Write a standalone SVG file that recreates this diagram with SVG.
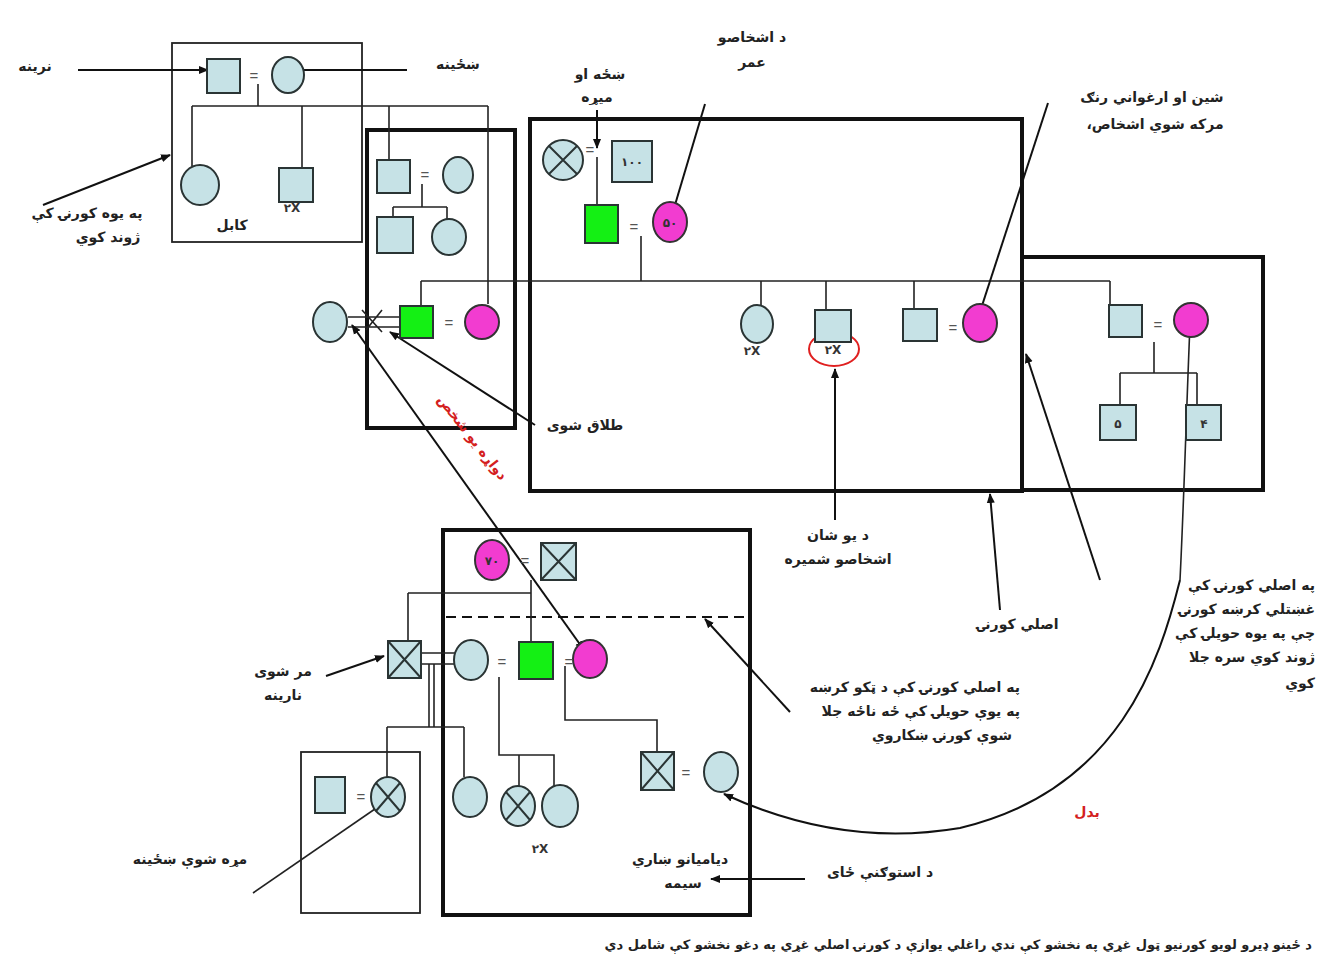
<svg xmlns="http://www.w3.org/2000/svg" width="1325" height="963" viewBox="0 0 1325 963">
<defs>
<style>
.p{fill:#c6e2e6;stroke:#2a3434;stroke-width:2}
.g{fill:#14f014;stroke:#2a3434;stroke-width:2}
.m{fill:#f23cd0;stroke:#333;stroke-width:2}
.x{stroke:#2a3434;stroke-width:2;fill:none}
.ln{stroke:#222;stroke-width:1.6;fill:none}
.ar{stroke:#111;stroke-width:2;fill:none;marker-end:url(#ah)}
.bx{fill:none;stroke:#111;stroke-width:4}
.bt{fill:none;stroke:#222;stroke-width:1.8}
.t{font-family:"DejaVu Sans",sans-serif;font-size:14px;font-weight:bold;fill:#222;text-anchor:middle}
.r{text-anchor:end}
.red{fill:#d42020}
.eq{font-family:"Liberation Sans",sans-serif;font-size:15px;fill:#555;text-anchor:middle}
.n{font-family:"DejaVu Sans",sans-serif;font-size:12px;font-weight:bold;fill:#333;text-anchor:middle}
</style>
<marker id="ah" viewBox="0 0 10 10" refX="9" refY="5" markerWidth="10" markerHeight="10" markerUnits="userSpaceOnUse" orient="auto">
<path d="M0,1 L10,5 L0,9 z" fill="#111"/>
</marker>
<marker id="ahs" viewBox="0 0 10 10" refX="9" refY="5" markerWidth="10" markerHeight="10" markerUnits="userSpaceOnUse" orient="auto-start-reverse">
<path d="M0,1 L10,5 L0,9 z" fill="#111"/>
</marker>
</defs>
<rect width="1325" height="963" fill="#ffffff"/>

<!-- frames -->
<g id="frames">
<rect class="bt" x="172" y="43" width="190" height="199"/>
<rect class="bx" x="367" y="130" width="148" height="298"/>
<rect class="bx" x="530" y="119" width="492" height="372"/>
<rect class="bx" x="1022" y="257" width="241" height="233"/>
<rect class="bx" x="443" y="530" width="307" height="385"/>
<rect class="bt" x="301" y="752" width="119" height="161"/>
<line x1="446" y1="617" x2="748" y2="617" stroke="#111" stroke-width="2" stroke-dasharray="10,6"/>
</g>

<!-- connectors -->
<g id="connectors">
<path class="ln" d="M258,84 V106 M192,106 H488 M192,106 V166 M302,106 V168 M389,106 V160 M488,106 V304"/>
<path class="ln" d="M422,184 V207 M393,207 H447 M393,207 V217 M447,207 V219"/>
<path class="ln" d="M597,157 V205 M641,236 V281 M421,281 H1110 M421,281 V306 M761,281 V305 M826,281 V310 M914,281 V309 M1110,281 V305"/>
<path class="ln" d="M1154,342 V373 M1120,373 H1197 M1120,373 V405 M1197,373 V405"/>
<path class="ln" d="M348,317 H399 M348,327 H399 M362,310 L382,332 M382,310 L366,330"/>
<path class="ln" d="M531,580 V641 M408,593 H531 M408,593 V641"/>
<path class="ln" d="M421,653 H455 M421,664 H455 M429,664 V727 M434,664 V727 M387,727 H464 M387,727 V778 M464,727 V777"/>
<path class="ln" d="M499,677 V755 H554 V786 M519,755 V787"/>
<path class="ln" d="M565,666 V720 H657 V752"/>
<line class="ar" x1="78" y1="70" x2="208" y2="70"/>
<line class="ar" x1="407" y1="70" x2="292" y2="70"/>
<line class="ar" x1="43" y1="205" x2="170" y2="155"/>
<line class="ar" x1="597" y1="110" x2="597" y2="148"/>
<line class="ar" x1="705" y1="104" x2="672" y2="215"/>
<line class="ar" x1="1048" y1="103" x2="978" y2="318"/>
<line class="ar" x1="535" y1="425" x2="390" y2="332"/>
<line class="ar" x1="352" y1="325" x2="584" y2="650" marker-start="url(#ahs)"/>
<line class="ar" x1="835" y1="520" x2="835" y2="369"/>
<line class="ar" x1="1000" y1="610" x2="990" y2="494"/>
<line class="ar" x1="1100" y1="580" x2="1026" y2="354"/>
<line class="ar" x1="326" y1="676" x2="384" y2="656"/>
<line class="ln" x1="253" y1="893" x2="388" y2="800" stroke-width="2"/>
<line class="ar" x1="805" y1="879" x2="711" y2="879"/>
<line class="ar" x1="790" y1="712" x2="705" y2="619"/>
<path class="ar" d="M1180,580 C1160,660 1120,790 960,828 C860,845 780,820 724,794"/>
<path class="ln" d="M1190,324 C1186,420 1184,500 1180,580" stroke-width="2" marker-start="url(#ahs)"/>
<ellipse cx="834" cy="349" rx="25" ry="17" fill="none" stroke="#e02020" stroke-width="2"/>
</g>

<!-- nodes: top-left family -->
<g id="n-grandfather"><rect class="p" x="207" y="59" width="33" height="34"/></g>
<g id="n-grandmother"><ellipse class="p" cx="288" cy="75" rx="16" ry="18"/></g>
<g id="n-kabul-daughter"><ellipse class="p" cx="200" cy="185" rx="19" ry="20"/></g>
<g id="n-kabul-son"><rect class="p" x="279" y="168" width="34" height="34"/><text class="n" x="292" y="212">۲X</text></g>
<g id="n-b2-son"><rect class="p" x="377" y="160" width="33" height="33"/></g>
<g id="n-b2-wife"><ellipse class="p" cx="458" cy="175" rx="15" ry="18"/></g>
<g id="n-b2-child1"><rect class="p" x="377" y="217" width="36" height="36"/></g>
<g id="n-b2-child2"><ellipse class="p" cx="449" cy="237" rx="17" ry="18"/></g>
<g id="n-exwife"><ellipse class="p" cx="330" cy="322" rx="17" ry="20"/></g>
<g id="n-husband"><rect class="g" x="400" y="306" width="33" height="32"/></g>
<g id="n-wife"><circle class="m" cx="482" cy="322" r="17"/></g>

<!-- main family -->
<g id="n-dead-mother"><circle class="p" cx="563" cy="160" r="20"/><path class="x" d="M549,146 L577,174 M577,146 L549,174"/></g>
<g id="n-old-father"><rect class="p" x="612" y="141" width="40" height="41"/><text class="n" x="632" y="166">۱۰۰</text></g>
<g id="n-main-husband"><rect class="g" x="585" y="205" width="33" height="38"/></g>
<g id="n-main-wife"><ellipse class="m" cx="670" cy="222" rx="17" ry="20"/><text class="n" x="670" y="227">۵۰</text></g>
<g id="n-child-f"><ellipse class="p" cx="757" cy="324" rx="16" ry="19"/><text class="n" x="752" y="355">۲X</text></g>
<g id="n-child-m"><rect class="p" x="815" y="310" width="36" height="32"/><text class="n" x="833" y="354">۲X</text></g>
<g id="n-child-m2"><rect class="p" x="903" y="309" width="34" height="32"/></g>
<g id="n-child-m2-wife"><ellipse class="m" cx="980" cy="323" rx="17" ry="19"/></g>
<g id="n-right-husband"><rect class="p" x="1109" y="305" width="33" height="32"/></g>
<g id="n-right-wife"><circle class="m" cx="1191" cy="320" r="17"/></g>
<g id="n-right-child5"><rect class="p" x="1100" y="405" width="36" height="35"/><text class="n" x="1118" y="428">۵</text></g>
<g id="n-right-child4"><rect class="p" x="1186" y="405" width="35" height="35"/><text class="n" x="1204" y="428">۴</text></g>

<!-- bottom family -->
<g id="n-b-mother"><ellipse class="m" cx="492" cy="560" rx="17" ry="20"/><text class="n" x="492" y="565">۷۰</text></g>
<g id="n-b-father"><rect class="p" x="541" y="543" width="35" height="37"/><path class="x" d="M541,543 L576,580 M576,543 L541,580"/></g>
<g id="n-b-dead-man"><rect class="p" x="388" y="641" width="33" height="37"/><path class="x" d="M388,641 L421,678 M421,641 L388,678"/></g>
<g id="n-b-wife1"><ellipse class="p" cx="471" cy="660" rx="17" ry="20"/></g>
<g id="n-b-husband"><rect class="g" x="519" y="642" width="34" height="37"/></g>
<g id="n-b-wife2"><ellipse class="m" cx="590" cy="659" rx="17" ry="19"/></g>
<g id="n-b-son"><rect class="p" x="641" y="752" width="33" height="38"/><path class="x" d="M641,752 L674,790 M674,752 L641,790"/></g>
<g id="n-b-son-wife"><ellipse class="p" cx="721" cy="772" rx="17" ry="20"/></g>
<g id="n-b-small-husband"><rect class="p" x="315" y="777" width="30" height="36"/></g>
<g id="n-b-dead-woman"><ellipse class="p" cx="388" cy="797" rx="17" ry="20"/><path class="x" d="M376,783 L400,811 M400,783 L376,811"/></g>
<g id="n-b-daughter1"><ellipse class="p" cx="470" cy="797" rx="17" ry="20"/></g>
<g id="n-b-daughter2"><ellipse class="p" cx="518" cy="806" rx="17" ry="20"/><path class="x" d="M506,792 L530,820 M530,792 L506,820"/></g>
<g id="n-b-daughter3"><ellipse class="p" cx="560" cy="806" rx="18" ry="21"/><text class="n" x="540" y="853">۲X</text></g>

<!-- equals signs -->
<g id="equals">
<text class="eq" x="254" y="81">=</text>
<text class="eq" x="425" y="180">=</text>
<text class="eq" x="449" y="328">=</text>
<text class="eq" x="590" y="155">=</text>
<text class="eq" x="634" y="232">=</text>
<text class="eq" x="953" y="333">=</text>
<text class="eq" x="1158" y="330">=</text>
<text class="eq" x="525" y="566">=</text>
<text class="eq" x="502" y="667">=</text>
<text class="eq" x="569" y="667">=</text>
<text class="eq" x="686" y="778">=</text>
<text class="eq" x="361" y="802">=</text>
</g>

<!-- labels -->
<g id="labels">
<text class="t" x="35" y="71">نرینه</text>
<text class="t" x="458" y="69">ښځینه</text>
<text class="t" x="87" y="218">په یوه کورنۍ کې</text>
<text class="t" x="108" y="242">ژوند کوي</text>
<text class="t" x="232" y="230">کابل</text>
<text class="t" x="752" y="42">د اشخاصو</text>
<text class="t" x="752" y="67">عمر</text>
<text class="t" x="600" y="79">ښځه او</text>
<text class="t" x="597" y="102">میړه</text>
<text class="t" x="1152" y="102">شین او ارغواني رنګ</text>
<text class="t" x="1155" y="129">،مرکه شوي اشخاص</text>
<text class="t" x="585" y="430">طلاق شوی</text>
<text class="t red" transform="translate(464,444) rotate(52)" x="0" y="-6">دواړه یو شخص</text>
<text class="t" x="838" y="540">د یو شان</text>
<text class="t" x="838" y="564">اشخاصو شمیره</text>
<text class="t" x="1018" y="629">اصلي کورنۍ</text>
<text class="t r" x="1315" y="590">په اصلي کورنۍ کې</text>
<text class="t r" x="1315" y="614">غښتلي کرښه کورنۍ</text>
<text class="t r" x="1315" y="638">چې په یوه حویلۍ کې</text>
<text class="t r" x="1315" y="662">ژوند کوي سره جلا</text>
<text class="t r" x="1315" y="688">کوي</text>
<text class="t r" x="1020" y="692">په اصلي کورنۍ کې د ټکو کرښه</text>
<text class="t r" x="1020" y="716">په یوې حویلۍ کې ځه ناځه جلا</text>
<text class="t r" x="1012" y="740">شوې کورنۍ ښکاروي</text>
<text class="t red" x="1087" y="817">بدل</text>
<text class="t" x="283" y="676">مر شوی</text>
<text class="t" x="283" y="700">نارینه</text>
<text class="t" x="190" y="864">مړه شوې ښځینه</text>
<text class="t" x="680" y="864">دیامیانو ښاري</text>
<text class="t" x="683" y="888">سیمه</text>
<text class="t" x="880" y="877">د استوګنې ځای</text>
<text class="t r" x="1312" y="949" style="font-size:13px">د ځینو ډیرو لویو کورنیو ټول غړي په نخشو کې ندي راغلي یوازې د کورنۍ اصلي غړي په دغو نخشو کې شامل دي</text>
</g>
</svg>
